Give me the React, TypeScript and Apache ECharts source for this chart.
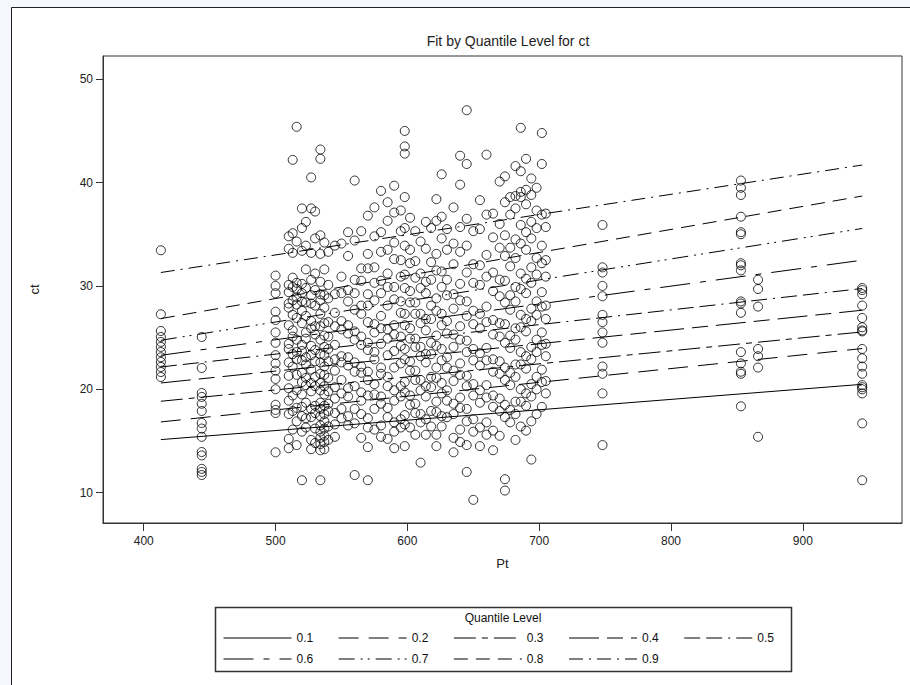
import React, { useEffect, useRef } from "react";
import * as echarts from "echarts";

const titleText = "Fit by Quantile Level for ct";
const xName = "Pt";
const yName = "ct";
const xTicks = [400, 500, 600, 700, 800, 900];
const yTicks = [10, 20, 30, 40, 50];

// quantile regression fits, evaluated at the ends of the Pt range
const levels = ["0.1", "0.2", "0.3", "0.4", "0.5", "0.6", "0.7", "0.8", "0.9"];
const fitPt = [413, 945];
const fitLow = [15.13, 16.84, 18.84, 20.61, 22.16, 23.29, 24.74, 26.84, 31.3];
const fitHigh = [20.48, 23.94, 25.55, 27.65, 29.75, 32.49, 35.56, 38.7, 41.7];

// observations, grouped by Pt
const ptGroups = [
  413, 444, 500, 510, 513, 516, 520, 523, 527, 530, 534, 537, 540, 545, 550, 555,
  560, 565, 570, 575, 580, 585, 590, 595, 598, 602, 606, 610, 614, 618, 622, 626,
  630, 635, 640, 645, 650, 655, 660, 665, 670, 674, 678, 682, 686, 690, 694, 698,
  702, 705, 748, 853, 866, 945,
];
const ctGroups = [
  [33.45, 27.26, 25.64, 25.06, 24.58, 24.1, 23.6, 23.1, 22.64, 22.16, 21.67, 21.19],
  [25.06, 22.06, 19.64, 19.26, 18.6, 17.9, 16.74, 16.2, 15.4, 13.93, 13.6, 12.3, 12.0, 11.7],
  [31, 30, 29.3, 27.5, 26.7, 25.5, 24.5, 23.3, 22.5, 21.8, 21, 20, 18.5, 18, 17.7, 13.9],
  [34.8, 33.6, 30.1, 29.4, 28.3, 27.9, 26.2, 24.4, 23.9, 22.6, 21.3, 20.1, 18.9, 17.6, 15.2, 14.3],
  [42.2, 35.1, 33.2, 30.8, 29.9, 28.6, 27.2, 25.7, 25.1, 23.4, 22.2, 19.4, 17.9, 16.1],
  [45.4, 34.3, 30.3, 29.7, 28.9, 28.2, 26.9, 24.8, 23.6, 22.9, 21.4, 19.9, 18.2, 16.9, 14.6],
  [37.5, 35.6, 33.4, 30.2, 29.3, 28.5, 27.6, 26.4, 24.3, 23.7, 22.8, 21.6, 20.7, 19.5, 18.3, 17.4, 15.9, 11.2],
  [36.2, 33.9, 31.6, 29.8, 28.4, 27.1, 25.5, 24.9, 23.1, 22.4, 21.1, 20.4, 18.7, 17.2, 16.3],
  [40.5, 37.5, 33.2, 30.6, 29.1, 28.3, 26.6, 25.9, 24.2, 23.3, 21.9, 20.6, 19.8, 18.1, 17.3, 15.1, 14.2],
  [37.2, 34.6, 31.2, 29.6, 28.1, 26.1, 25.3, 23.8, 22.7, 21.2, 20.3, 18.4, 17.7, 16.2, 14.8],
  [43.2, 42.3, 34.9, 33.1, 30.4, 29.2, 28.6, 27.3, 26.1, 24.8, 23.4, 22.6, 21.5, 20.6, 19.9, 18.7, 18.1, 17.4, 16.5, 15.9, 15.3, 14.7, 14.1, 11.2],
  [34.2, 31.6, 29.1, 27.9, 26.4, 25.2, 24.1, 23.3, 22.2, 21.4, 20.3, 19.5, 18.4, 17.6, 16.9, 16.2, 15.5, 14.9, 14.2],
  [33.3, 30.1, 28.8, 26.5, 25.1, 23.9, 22.7, 21.1, 19.8, 18.6, 17.9, 16.4, 15.1],
  [33.9, 29.2, 27.4, 26.1, 24.3, 22.9, 21.8, 20.2, 19.1, 17.7, 16.6, 15.4],
  [34.1, 30.9, 29.3, 26.6, 25.8, 23.2, 22.6, 20.9, 19.6, 18.1, 17.2],
  [35.2, 32.9, 29.6, 28.5, 26.2, 25.4, 23.1, 22.3, 20.1, 19.3, 17.4, 16.5],
  [40.2, 34.4, 30.6, 29.3, 27.7, 25.6, 24.8, 22.6, 21.7, 20.3, 18.1, 16.7, 11.7],
  [35.3, 31.7, 30.5, 28.1, 27.3, 25.1, 24.3, 22.2, 21.6, 19.7, 18.9, 17.6, 15.3],
  [36.8, 33.1, 31.7, 29.2, 28.1, 26.5, 24.5, 23.8, 21.7, 20.9, 19.4, 17.2, 16.3, 14.4, 11.2],
  [37.6, 34.8, 31.8, 30.3, 28.6, 26.3, 25.5, 23.6, 22.9, 20.5, 19.5, 18.1, 16.1],
  [39.2, 35.2, 33.3, 30.5, 29.3, 27.1, 25.9, 24.4, 22.1, 21.5, 19.3, 18.6, 16.5, 15.4],
  [38.1, 36.3, 33.5, 31.2, 29.9, 28.1, 25.8, 24.9, 23.3, 21.2, 20.3, 18.2, 17.3, 15.2],
  [39.7, 37.1, 34.2, 32.6, 29.9, 28.7, 26.2, 25.3, 23.7, 22.1, 19.9, 18.9, 16.8, 15.9, 14.3],
  [37.3, 35.3, 32.5, 30.9, 28.5, 27.4, 25.1, 24.2, 22.5, 20.3, 19.3, 17.1, 16.3],
  [45, 43.5, 42.8, 38.6, 35.6, 33.9, 31.1, 29.8, 27.3, 26.2, 23.9, 22.9, 20.7, 19.7, 17.5, 16.6, 14.5],
  [36.6, 33.5, 32.2, 29.5, 28.4, 25.9, 24.9, 22.7, 21.8, 19.4, 18.5, 16.3],
  [35.3, 32.4, 30.8, 28.4, 27.3, 24.9, 24.1, 21.8, 20.9, 18.6, 17.7, 15.6],
  [34.3, 31.2, 29.8, 27.3, 26.4, 24.1, 23.2, 20.9, 19.9, 17.6, 16.8, 12.9],
  [36.2, 33.6, 30.4, 29.3, 26.8, 25.7, 23.4, 22.6, 20.3, 19.3, 17.1, 15.6],
  [35.6, 32.3, 30.6, 28.1, 26.8, 24.5, 23.4, 21.2, 20.2, 17.9, 16.4],
  [38.4, 36.3, 33.1, 31.5, 28.8, 27.6, 25.2, 24.2, 22.1, 21.1, 18.8, 17.8, 15.6, 14.5],
  [40.8, 36.7, 34.6, 31.4, 29.9, 27.3, 26.2, 23.9, 22.8, 20.6, 19.6, 17.4, 16.4],
  [35.5, 33.5, 30.6, 29.1, 26.6, 25.4, 23.1, 22.1, 19.9, 18.9, 17.3],
  [37.6, 34.1, 32.1, 29.2, 27.8, 25.3, 24.1, 21.8, 20.8, 18.6, 17.6, 15.3, 13.9],
  [42.6, 39.8, 35.7, 33.3, 30.2, 28.6, 26.1, 24.8, 22.5, 21.4, 19.2, 18.2, 16.1, 14.9],
  [47, 41.8, 36.5, 33.9, 31.3, 28.5, 27.1, 24.7, 23.6, 21.3, 20.3, 18.1, 16.9, 14.6, 12],
  [35.3, 32.1, 30.3, 27.6, 26.3, 23.9, 22.8, 20.5, 19.4, 17.1, 15.9, 9.3],
  [38.3, 35.5, 32.0, 30.1, 27.3, 25.9, 23.5, 22.3, 19.9, 18.7, 16.3, 14.5],
  [42.7, 36.9, 33.0, 30.9, 28.0, 26.5, 24.0, 22.8, 20.4, 19.2, 16.8, 15.6],
  [37.0, 34.7, 31.3, 29.5, 26.7, 25.3, 22.9, 21.7, 19.4, 18.3, 16.0, 14.1],
  [40.1, 36.0, 33.7, 30.6, 29.0, 26.4, 25.1, 22.7, 21.5, 19.1, 17.9, 15.5],
  [40.6, 38.1, 34.9, 32.9, 30.5, 28.4, 26.3, 24.5, 22.1, 20.9, 18.5, 17.3, 11.3, 10.2],
  [38.6, 36.9, 33.7, 31.9, 29.1, 27.7, 25.2, 24.0, 21.6, 20.4, 18.0, 16.8],
  [41.6, 38.7, 37.5, 34.5, 32.7, 29.9, 28.5, 25.9, 24.8, 22.4, 21.2, 18.8, 17.6, 15.1],
  [45.3, 41.1, 39.1, 38.6, 35.9, 34.1, 31.2, 29.7, 27.2, 26.0, 23.6, 22.4, 20.0, 18.8, 16.4],
  [42.3, 39.3, 37.9, 35.2, 33.5, 30.7, 29.3, 26.8, 25.6, 23.2, 22.0, 19.6, 18.4, 16.0],
  [40.4, 38.8, 36.2, 34.6, 31.8, 30.3, 27.8, 26.6, 24.1, 22.9, 20.5, 19.3, 16.9, 13.2],
  [39.5, 37.3, 35.6, 32.7, 31.1, 28.5, 27.2, 24.8, 23.6, 21.2, 20.0, 17.6],
  [44.8, 41.8, 36.9, 33.9, 32.2, 29.4, 28.0, 25.5, 24.3, 21.9, 20.7, 18.3],
  [37.0, 35.7, 32.5, 30.9, 28.1, 26.8, 24.4, 23.2, 20.8, 19.6],
  [35.9, 31.8, 31.3, 30, 29, 27.2, 26.5, 25.5, 24.5, 22.2, 21.5, 19.6, 14.6],
  [40.2, 39.5, 38.8, 36.7, 35.2, 35.0, 32.2, 32.0, 31.5, 28.5, 28.3, 27.4, 23.6, 22.5, 21.7, 21.5, 18.35],
  [30.6, 29.7, 28.0, 23.9, 23.2, 22.1, 15.4],
  [29.8, 29.6, 29.2, 28.1, 26.9, 26.0, 25.7, 25.6, 23.9, 23.0, 22.2, 21.5, 20.4, 20.2, 20.0, 19.6, 16.7, 11.2],
];

// SAS-style line patterns for the nine quantile levels
const patterns: (string | number[])[] = [
  "solid",
  [20, 10],
  [22, 6, 6, 6],
  [30, 8, 16, 8],
  [16, 6, 16, 6, 2, 6],
  [30, 10, 6, 10],
  [16, 6, 2, 5, 2, 6],
  [14, 8],
  [14, 6, 2, 6],
];

const FONT = "'Liberation Sans', Arial, sans-serif";

export default function App() {
  const ref = useRef<HTMLDivElement>(null);

  useEffect(() => {
    document.body.style.margin = "0";
    const chart = echarts.init(ref.current!, null, { renderer: "svg" });

    const points: number[][] = [];
    ptGroups.forEach((pt, i) => {
      ctGroups[i].forEach((ct) => points.push([pt, ct]));
    });

    const fitSeries = levels.map((lv, i) => ({
      name: lv,
      type: "line",
      data: [
        [fitPt[0], fitLow[i]],
        [fitPt[1], fitHigh[i]],
      ],
      symbol: "none",
      silent: true,
      z: 3,
      itemStyle: { color: "#000" },
      lineStyle: { color: "#000", width: 1, type: patterns[i] },
    }));

    const legendCommon = {
      orient: "horizontal",
      itemWidth: 68,
      itemHeight: 12,
      itemGap: 25,
      padding: 0,
      itemStyle: { opacity: 0 },
      lineStyle: { width: 1, color: "#000" },
      textStyle: {
        fontFamily: FONT,
        fontSize: 12,
        color: "#111",
      },
      selectedMode: false,
    };

    chart.setOption({
      animation: false,
      backgroundColor: "#f6f8fe",
      title: {
        text: titleText,
        left: 503,
        top: 29,
        textAlign: "center",
        textStyle: { fontFamily: FONT, fontSize: 14, fontWeight: "normal", color: "#222" },
      },
      grid: {
        left: 103,
        right: 8,
        top: 56,
        bottom: 162,
        show: true,
        backgroundColor: "#fff",
        borderColor: "#333",
        borderWidth: 1,
      },
      xAxis: {
        type: "value",
        min: 369.1,
        max: 975.2,
        name: xName,
        nameLocation: "middle",
        nameGap: 34,
        nameTextStyle: { fontFamily: FONT, fontSize: 13, color: "#222" },
        axisLine: { show: true, lineStyle: { color: "#333", width: 1 } },
        axisTick: { show: true, customValues: xTicks, length: 8, lineStyle: { color: "#333" } },
        axisLabel: { customValues: xTicks, fontFamily: FONT, fontSize: 12, color: "#222", margin: 12 },
        splitLine: { show: false },
      },
      yAxis: {
        type: "value",
        min: 7.06,
        max: 52.25,
        name: yName,
        nameLocation: "middle",
        nameGap: 62,
        nameTextStyle: { fontFamily: FONT, fontSize: 13, color: "#222" },
        axisLine: { show: true, lineStyle: { color: "#333", width: 1 } },
        axisTick: { show: true, customValues: yTicks, length: 7, lineStyle: { color: "#333" } },
        axisLabel: { customValues: yTicks, fontFamily: FONT, fontSize: 12, color: "#222", margin: 10 },
        splitLine: { show: false },
      },
      legend: [
        { ...legendCommon, left: 223, top: 632, data: levels.slice(0, 5) },
        { ...legendCommon, left: 223, top: 653, data: levels.slice(5) },
      ],
      graphic: [
        {
          type: "rect",
          z: -10,
          shape: { x: 11.5, y: 7.5, width: 910, height: 690 },
          style: { fill: "#fff", stroke: "#222", lineWidth: 1 },
          silent: true,
        },
        {
          type: "rect",
          shape: { x: 215.5, y: 607.5, width: 576, height: 64 },
          style: { fill: "#fff", stroke: "#333", lineWidth: 1.5 },
          silent: true,
          z: -5,
        },
        {
          type: "text",
          x: 503,
          y: 612,
          style: {
            text: "Quantile Level",
            fontFamily: FONT,
            fontSize: 12,
            fill: "#111",
            align: "center",
            verticalAlign: "top",
          },
          silent: true,
        },
      ],
      series: [
        {
          type: "scatter",
          data: points,
          symbol: "circle",
          symbolSize: 9,
          z: 2,
          silent: true,
          itemStyle: { color: "rgba(0,0,0,0)", borderColor: "#000", borderWidth: 1 },
        },
        ...fitSeries,
      ],
    });

    return () => chart.dispose();
  }, []);

  return <div ref={ref} style={{ width: 910, height: 685 }} />;
}
